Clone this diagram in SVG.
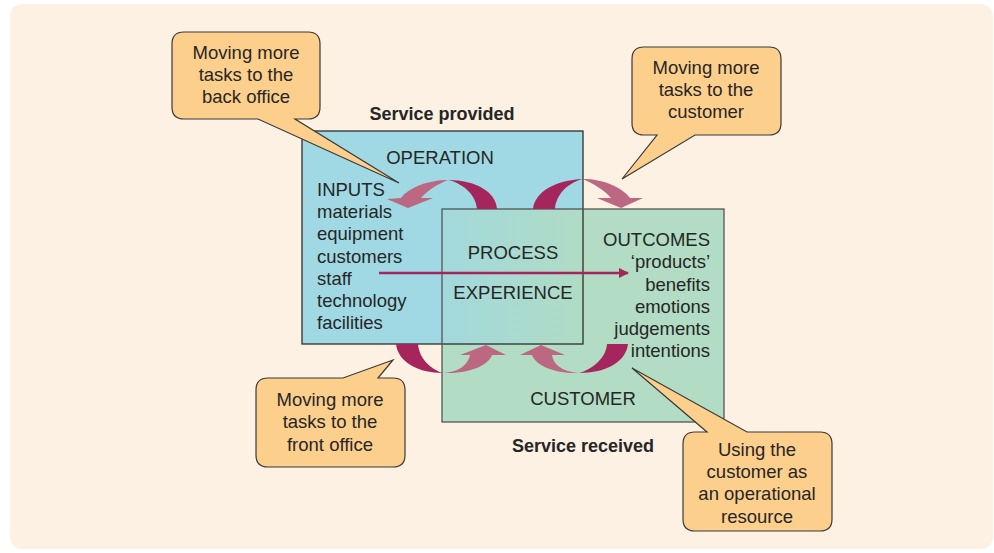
<svg xmlns="http://www.w3.org/2000/svg" width="994" height="553" viewBox="0 0 994 553">
<defs>
<linearGradient id="ov" x1="0" y1="0" x2="1" y2="0">
<stop offset="0" stop-color="#a2d9dc"/>
<stop offset="1" stop-color="#b0dcc4"/>
</linearGradient>
<marker id="ah" markerWidth="10" markerHeight="10" refX="9" refY="5" orient="auto" markerUnits="userSpaceOnUse" viewBox="0 0 10 10">
<path d="M0 0 L10 5 L0 10 Z" fill="#a4265c"/>
</marker>
<style>
text{font-family:"Liberation Sans",Arial,sans-serif;font-size:18.5px;fill:#262626}
.b{font-weight:bold;font-size:18px}
.m{text-anchor:middle}
.r{text-anchor:end}
.call{fill:#fdcf8c;stroke:#3a3a3a;stroke-width:1.2}
.dk{fill:#a4265c}
.lt{fill:#bc6882}
</style>
</defs>
<rect x="10" y="4" width="983" height="545" rx="12" fill="#fdf1e3"/>

<g id="operation">
<rect x="302" y="131" width="281" height="213" fill="#a0d9e3"/>
</g>
<g id="customer">
<rect x="442" y="209" width="282" height="213" fill="#b2dcc3"/>
</g>
<g id="process">
<rect x="442" y="209" width="141" height="135" fill="url(#ov)"/>
</g>
<g id="outlines" fill="none">
<rect x="302" y="131" width="281" height="213" stroke="#2e2e2e" stroke-width="1.3"/>
<rect x="442" y="209" width="282" height="213" stroke="#555" stroke-width="1.3"/>
</g>

<g id="labels">
<text class="b m" x="442" y="120">Service provided</text>
<text class="m" x="440" y="164">OPERATION</text>
<text x="317" y="196">INPUTS</text>
<text x="317" y="218">materials</text>
<text x="317" y="240">equipment</text>
<text x="317" y="263">customers</text>
<text x="317" y="285">staff</text>
<text x="317" y="307">technology</text>
<text x="317" y="329">facilities</text>
<text class="m" x="513" y="259">PROCESS</text>
<text class="m" x="513" y="299">EXPERIENCE</text>
<text class="r" x="710" y="246">OUTCOMES</text>
<text class="r" x="710" y="268">‘products’</text>
<text class="r" x="710" y="291">benefits</text>
<text class="r" x="710" y="313">emotions</text>
<text class="r" x="710" y="335">judgements</text>
<text class="r" x="710" y="357">intentions</text>
<text class="m" x="583" y="405">CUSTOMER</text>
<text class="b m" x="583" y="452">Service received</text>
</g>

<g id="connectors">
<path class="dk" d="M497 209 C496 192 476 180 448 180 C465 184 476 196 477 209 Z"/>
<path class="lt" d="M448 180 C428 180 408 188 401 198 L387 199 L408 208 L433 198 L421 198 C428 190 438 184 448 180 Z"/>
<path class="dk" d="M533 209 C535 192 555 180 583 179 C567 183 556 195 555 209 Z"/>
<path class="lt" d="M583 179 C603 179 622 187 630 198 L643 198 L621 208 L597 198 L611 198 C604 190 594 184 583 179 Z"/>
<path class="dk" d="M396 344 C398 362 418 373 443 373 C430 369 419 358 418 344 Z"/>
<path class="lt" d="M443 373 C460 372 468 364 470 355 L460 355 L486 345 L506 355 L492 355 C488 366 468 374 443 373 Z"/>
<path class="dk" d="M628 344 C626 362 606 373 579 373 C593 369 606 358 607 344 Z"/>
<path class="lt" d="M579 373 C562 372 553 364 552 355 L565 355 L541 345 L520 355 L532 355 C536 366 556 374 579 373 Z"/>
<line x1="379" y1="273" x2="628" y2="273" stroke="#a4265c" stroke-width="2.5" marker-end="url(#ah)"/>
</g>

<g id="callout-back-office">
<path class="call" d="M184 32 H308 Q320 32 320 44 V107 Q320 119 308 119 H295 L399 183 L258 119 H184 Q172 119 172 107 V44 Q172 32 184 32 Z"/>
<text class="m" x="246" y="59">Moving more</text>
<text class="m" x="246" y="81">tasks to the</text>
<text class="m" x="246" y="103">back office</text>
</g>
<g id="callout-to-customer">
<path class="call" d="M644 47 H769 Q781 47 781 59 V123 Q781 135 769 135 H695 L622 179 L657 135 H644 Q632 135 632 123 V59 Q632 47 644 47 Z"/>
<text class="m" x="706" y="74">Moving more</text>
<text class="m" x="706" y="96">tasks to the</text>
<text class="m" x="706" y="118">customer</text>
</g>
<g id="callout-front-office">
<path class="call" d="M268 378 H343 L393 360 L378 378 H393 Q405 378 405 390 V455 Q405 467 393 467 H268 Q256 467 256 455 V390 Q256 378 268 378 Z"/>
<text class="m" x="330" y="406">Moving more</text>
<text class="m" x="330" y="428">tasks to the</text>
<text class="m" x="330" y="451">front office</text>
</g>
<g id="callout-resource">
<path class="call" d="M695 432 H707 L632 368 L747 432 H820 Q832 432 832 444 V519 Q832 531 820 531 H695 Q683 531 683 519 V444 Q683 432 695 432 Z"/>
<text class="m" x="757" y="456">Using the</text>
<text class="m" x="757" y="478">customer as</text>
<text class="m" x="757" y="500">an operational</text>
<text class="m" x="757" y="523">resource</text>
</g>
</svg>
